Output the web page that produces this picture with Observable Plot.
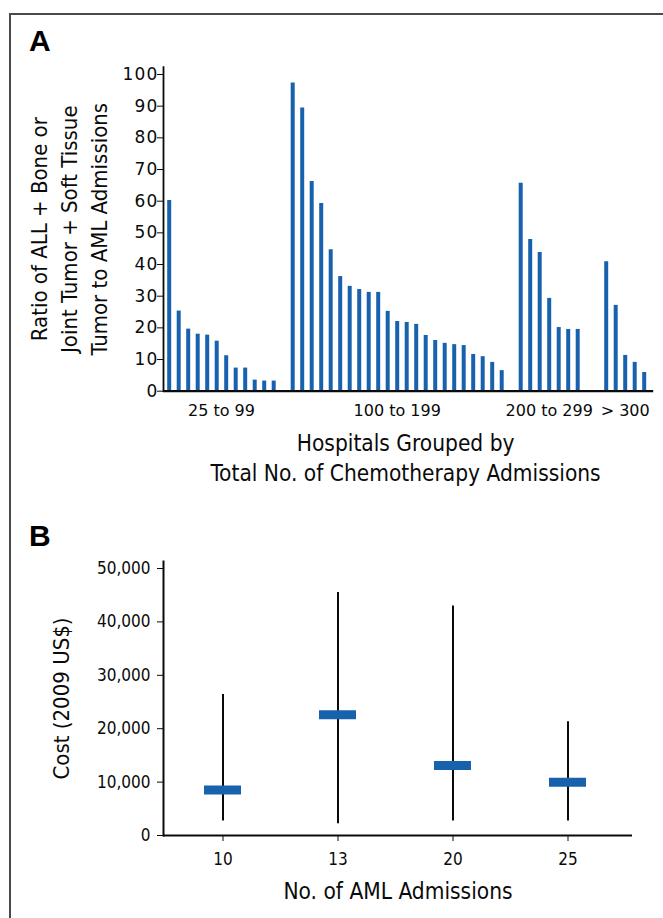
<!DOCTYPE html>
<html>
<head>
<meta charset="utf-8">
<script src="https://cdn.jsdelivr.net/npm/d3@7"></script>
<script src="https://cdn.jsdelivr.net/npm/@observablehq/plot@0.6"></script>
<style>
  html, body { margin: 0; padding: 0; background: #fff; }
  body { width: 663px; height: 918px; overflow: hidden; position: relative; }
  #frame { position: absolute; left: 9px; top: 13px; width: 700px; height: 1000px;
           border-left: 2px solid #4a4a4a; border-top: 2px solid #4a4a4a; }
  .panel { position: absolute; left: 0; }
  .letter { position: absolute; left: 29px; font: bold 30px "Liberation Sans", Arial, sans-serif; line-height: 30px; }
  svg { overflow: visible; }
  #panelA g[aria-label="y-axis tick label"] text { letter-spacing: 1.2px; }
</style>
</head>
<body>
<div id="frame"></div>
<div id="panelA" class="panel" style="top:0px"></div>
<div id="panelB" class="panel" style="top:500px"></div>
<div class="letter" style="top:26px">A</div>
<div class="letter" style="top:521px">B</div>
<script>
// ---------- Panel A data ----------
const groupLabels = ["25 to 99", "100 to 199", "200 to 299", "> 300"];
const group1 = [60.2, 25.3, 19.6, 18.0, 17.7, 15.8, 11.2, 7.3, 7.3, 3.5, 3.2, 3.2];
const group2 = [97.3, 89.4, 66.2, 59.3, 44.7, 36.2, 33.1, 32.1, 31.2, 31.2, 25.2, 22.0, 21.7, 21.1, 17.6, 16.0, 15.1, 14.7, 14.4, 11.6, 10.9, 9.1, 6.5];
const group3 = [65.7, 47.9, 43.8, 29.3, 20.1, 19.5, 19.5];
const group4 = [40.9, 27.1, 11.3, 9.1, 5.9];
const yTicksA = [0, 10, 20, 30, 40, 50, 60, 70, 80, 90, 100];
const yLabelA = "Ratio of ALL + Bone or\nJoint Tumor + Soft Tissue\nTumor to AML Admissions";
const xLabelA = "Hospitals Grouped by\nTotal No. of Chemotherapy Admissions";

// ---------- Panel B data ----------
const admissions = ["10", "13", "20", "25"];
const costLow = [2700, 2200, 2700, 2700];
const costHigh = [26400, 45500, 43000, 21300];
const costMedian = [8500, 22600, 13100, 9950];
const yTicksB = [0, 10000, 20000, 30000, 40000, 50000];
const yLabelB = "Cost (2009 US$)";
const xLabelB = "No. of AML Admissions";

const blue = "#1862ad";
const ink = "#0a0a0a";
const condensed = "'DejaVu Sans Condensed', 'DejaVu Sans', sans-serif";
const regular = "'DejaVu Sans', sans-serif";

// layout of bar slots: spacing (in slots) between consecutive groups
const groupSpacing = [2, 2, 3];
const groups = [group1, group2, group3, group4];
const bars = [];
const groupCenters = [];
let pos = 0;
groups.forEach((g, gi) => {
  if (gi > 0) pos += groupSpacing[gi - 1] - 1;
  const start = pos;
  g.forEach(v => { bars.push({pos, value: v, group: gi}); pos += 1; });
  groupCenters.push({label: groupLabels[gi], center: (start + pos - 1) / 2});
});
const lastPos = pos - 1;
const xDomainA = [-0.6, lastPos + 1];

const plotA = Plot.plot({
  width: 663, height: 490,
  marginLeft: 163, marginRight: 9.8, marginTop: 66.7, marginBottom: 99.3,
  x: {type: "linear", domain: xDomainA, axis: null},
  y: {domain: [0, 100], insetTop: 7.3, axis: null},
  style: {fontFamily: condensed, background: "transparent", color: ink},
  marks: [
    Plot.frame({anchor: "left", strokeWidth: 1.8, stroke: ink}),
    Plot.axisY({ticks: yTicksA, tickSize: 6, tickPadding: -1, fontSize: 17, fontFamily: regular, label: null, stroke: ink, fill: ink}),
    Plot.ruleX(bars, {x: "pos", y1: 0, y2: "value", stroke: blue, strokeWidth: 4}),
    Plot.ruleY([0], {strokeWidth: 2.2, stroke: ink}),
    Plot.text(groupCenters, {x: "center", text: "label", frameAnchor: "bottom", lineAnchor: "middle", dy: 19.5, fontSize: 16, fontFamily: regular, fill: ink}),
    Plot.text([xLabelA], {frameAnchor: "bottom", lineAnchor: "middle", textAnchor: "middle", dx: -3, dy: 65, fontSize: 22.5, lineHeight: 30 / 22.5, fill: ink}),
    Plot.text([yLabelA], {frameAnchor: "left", lineAnchor: "middle", textAnchor: "middle", rotate: -90, dx: -96.5, fontSize: 22, lineHeight: 30 / 22, fill: ink})
  ]
});
document.getElementById("panelA").appendChild(plotA);

const costRows = admissions.map((a, i) => ({adm: a, low: costLow[i], high: costHigh[i], median: costMedian[i]}));

const plotB = Plot.plot({
  width: 663, height: 418,
  marginLeft: 163, marginRight: 31, marginTop: 61, marginBottom: 83,
  x: {type: "band", domain: admissions, paddingInner: 0.68, paddingOuter: 0.34, insetRight: 6, axis: null},
  y: {domain: [0, 50000], insetTop: 7, axis: null},
  style: {fontFamily: condensed, background: "transparent", color: ink},
  marks: [
    Plot.frame({anchor: "left", strokeWidth: 2, stroke: ink}),
    Plot.axisY({ticks: yTicksB, tickFormat: d3.format(","), tickSize: 6, tickPadding: 7, fontSize: 17, label: null, stroke: ink, fill: ink}),
    Plot.axisX({tickSize: 6, tickPadding: 11, fontSize: 17, label: null, stroke: ink, fill: ink}),
    Plot.ruleY([0], {strokeWidth: 2.2, stroke: ink}),
    Plot.ruleX(costRows, {x: "adm", y1: "low", y2: "high", strokeWidth: 2, stroke: ink}),
    Plot.tickY(costRows, {x: "adm", y: "median", stroke: blue, strokeWidth: 9}),
    Plot.text([xLabelB], {frameAnchor: "bottom", lineAnchor: "middle", textAnchor: "middle", dy: 56, fontSize: 22.5, fill: ink}),
    Plot.text([yLabelB], {frameAnchor: "left", lineAnchor: "middle", textAnchor: "middle", rotate: -90, dx: -102, fontSize: 22, fill: ink})
  ]
});
document.getElementById("panelB").appendChild(plotB);
</script>
</body>
</html>
